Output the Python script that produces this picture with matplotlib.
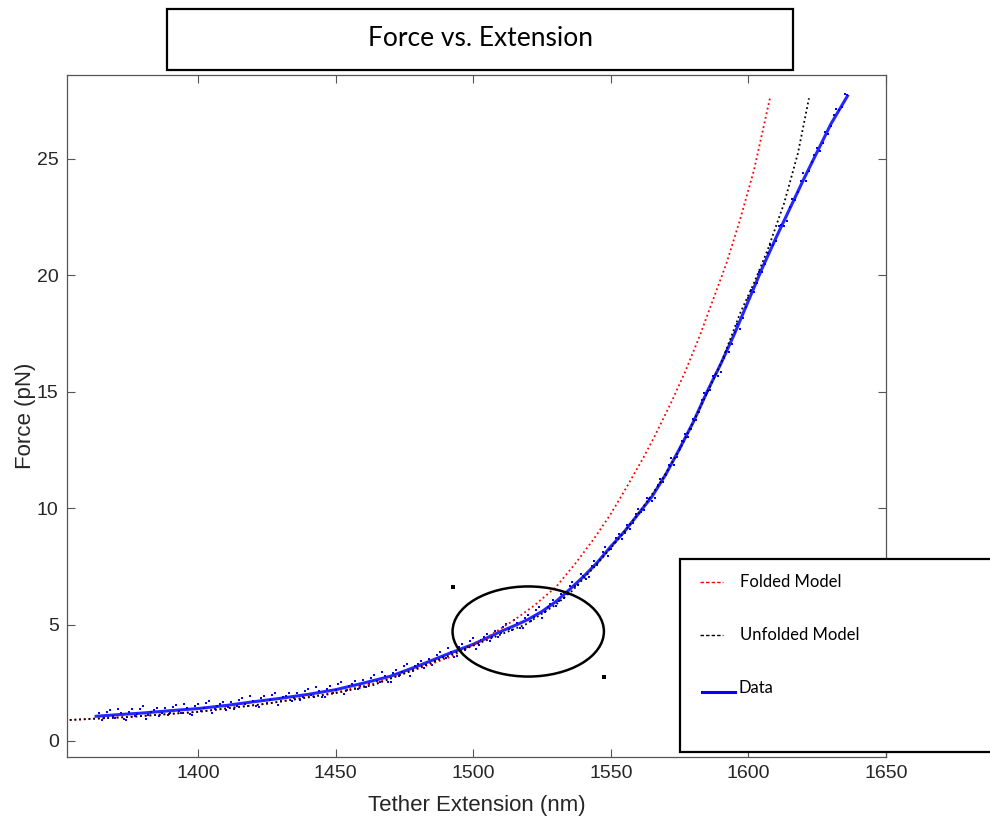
import matplotlib
matplotlib.use("Agg")
import matplotlib.pyplot as plt
from matplotlib.patches import Ellipse, Rectangle
from matplotlib.lines import Line2D

# ---- data ----
# centre line of the measured trace
data_ext = [1363, 1370, 1380, 1390, 1400, 1410, 1420, 1430, 1440, 1450, 1460, 1470,
            1480, 1490, 1500, 1510, 1516, 1520, 1525, 1530, 1535, 1540, 1545, 1550,
            1555, 1560, 1565, 1570, 1575, 1580, 1585, 1590, 1595, 1600, 1605, 1610,
            1615, 1620, 1625, 1630, 1636]
data_force = [1.06, 1.12, 1.20, 1.30, 1.39, 1.52, 1.68, 1.83, 2.00, 2.20, 2.48, 2.78,
              3.22, 3.70, 4.15, 4.70, 5.00, 5.22, 5.56, 5.98, 6.50, 7.05, 7.65, 8.35,
              9.00, 9.75, 10.50, 11.45, 12.55, 13.70, 15.00, 16.20, 17.50, 18.90, 20.30, 21.60,
              22.85, 24.10, 25.30, 26.50, 27.70]

# individual samples (scatter around the trace)
pts_ext_a = list(range(1364, 1637, 2))
pts_force_a = [1.18, 1.00, 1.32, 0.97, 1.19, 0.90, 1.35, 1.16, 1.48, 1.10, 1.33, 1.06,
               1.40, 1.22, 1.54, 1.18, 1.40, 1.12, 1.57, 1.40, 1.73, 1.35, 1.59, 1.32,
               1.67, 1.50, 1.84, 1.50, 1.73, 1.46, 1.92, 1.75, 2.08, 1.71, 1.95, 1.70,
               2.05, 1.89, 2.22, 1.89, 2.13, 1.87, 2.34, 2.18, 2.53, 2.19, 2.46, 2.22,
               2.60, 2.46, 2.82, 2.51, 2.77, 2.53, 3.05, 2.94, 3.32, 3.01, 3.31, 3.12,
               3.53, 3.43, 3.82, 3.55, 3.84, 3.63, 4.15, 4.04, 4.43, 4.14, 4.46, 4.28,
               4.71, 4.62, 5.02, 4.75, 5.05, 4.86, 5.40, 5.33, 5.76, 5.52, 5.90, 5.78,
               6.31, 6.32, 6.83, 6.68, 7.10, 7.04, 7.71, 7.77, 8.35, 8.23, 8.70, 8.67,
               9.27, 9.37, 9.97, 9.90, 10.40, 10.44, 11.25, 11.43, 12.17, 12.21, 12.87, 13.04,
               13.82, 14.14, 14.96, 15.07, 15.71, 15.85, 16.76, 17.04, 17.91, 18.17, 19.04, 19.29,
               20.15, 20.48, 21.30, 21.45, 22.15, 22.35, 23.28, 23.58, 24.38, 24.46, 25.15, 25.34,
               26.14, 26.42, 27.16, 27.23, 27.75]
pts_ext_b = list(range(1365, 1636, 2))
pts_force_b = [0.89, 1.24, 1.06, 1.38, 0.93, 1.26, 1.06, 1.39, 0.93, 1.26, 1.41, 1.18,
               1.11, 1.46, 1.28, 1.59, 1.14, 1.48, 1.29, 1.64, 1.18, 1.52, 1.67, 1.45,
               1.39, 1.75, 1.59, 1.92, 1.48, 1.83, 1.64, 1.99, 1.54, 1.88, 2.04, 1.83,
               1.77, 2.14, 1.97, 2.31, 1.88, 2.24, 2.06, 2.43, 2.00, 2.37, 2.56, 2.36,
               2.33, 2.72, 2.58, 2.94, 2.53, 2.93, 2.80, 3.20, 2.81, 3.21, 3.43, 3.28,
               3.28, 3.71, 3.60, 4.00, 3.62, 4.03, 3.90, 4.31, 3.93, 4.35, 4.59, 4.45,
               4.47, 4.90, 4.80, 5.20, 4.84, 5.27, 5.17, 5.62, 5.28, 5.76, 6.06, 6.00,
               6.12, 6.66, 6.67, 7.19, 6.95, 7.51, 7.54, 8.13, 7.93, 8.51, 8.90, 8.92,
               9.12, 9.75, 9.85, 10.45, 10.30, 10.98, 11.14, 11.87, 11.83, 12.59, 13.17, 13.38,
               13.78, 14.63, 14.93, 15.69, 15.66, 16.44, 16.70, 17.55, 17.68, 18.65, 19.38, 19.67,
               20.12, 20.97, 21.29, 22.10, 22.13, 22.95, 23.23, 24.05, 24.06, 24.85, 25.46, 25.69,
               26.08, 26.87, 27.11, 27.79]

# model curves
folded_ext = [1350, 1375, 1400, 1425, 1450, 1465, 1480, 1492, 1505, 1515, 1522, 1530,
              1537, 1544, 1550, 1556, 1562, 1566, 1572, 1577, 1582, 1587, 1592, 1597,
              1602, 1608]
folded_force = [0.88, 1.03, 1.25, 1.60, 2.08, 2.50, 3.10, 3.62, 4.45, 5.20, 5.80, 6.60,
                7.60, 8.70, 9.75, 10.95, 12.20, 13.10, 14.55, 15.85, 17.30, 18.90, 20.50, 22.40,
                24.50, 27.70]
unfolded_ext = [1350, 1375, 1400, 1425, 1450, 1464, 1475, 1486, 1502, 1519, 1530, 1536,
                1545, 1553, 1560, 1568, 1575, 1582, 1590, 1597, 1602, 1607, 1613, 1618,
                1622]
unfolded_force = [0.88, 1.03, 1.25, 1.60, 2.05, 2.41, 2.90, 3.41, 4.19, 5.00, 5.85, 6.45,
                  7.60, 8.70, 9.75, 11.10, 12.50, 14.20, 16.20, 18.37, 19.66, 21.09, 23.10, 25.24,
                  27.60]

# highlighted region
ellipse_center = (1520.0, 4.70)
ellipse_size = (55.0, 3.87)
corner_ext = [1492.8, 1547.6]
corner_force = [6.61, 2.76]

# ---- figure ----
plt.rcParams["font.family"] = ["Liberation Sans", "DejaVu Sans"]
txt = "#262626"

fig = plt.figure(figsize=(9.9, 8.17), dpi=100)
ax = fig.add_axes([67 / 990, 1 - 757 / 817, (886 - 67) / 990, (757 - 75) / 817])

ax.plot(data_ext, data_force, color="blue", lw=2.2, alpha=0.85, zorder=2)
ax.plot(pts_ext_a, pts_force_a, ls="none", marker="s", ms=2.1, mew=0, color="blue", zorder=2)
ax.plot(pts_ext_b, pts_force_b, ls="none", marker="s", ms=2.1, mew=0, color="blue", zorder=2)
ax.plot(folded_ext, folded_force, color="red", lw=1.3, ls=(0, (1, 1.6)), zorder=3)
ax.plot(unfolded_ext, unfolded_force, color="black", lw=1.3, ls=(0, (1, 1.6)), zorder=3)

ax.add_patch(Ellipse(ellipse_center, ellipse_size[0], ellipse_size[1],
                     fill=False, ec="black", lw=1.8, zorder=4))
ax.plot(corner_ext, corner_force, ls="none", marker="s", ms=2.2, mew=0, color="black")

ax.set_xlim(1352.4, 1650.0)
ax.set_ylim(-0.69, 28.6)
ax.set_xticks([1400, 1450, 1500, 1550, 1600, 1650])
ax.set_yticks([0, 5, 10, 15, 20, 25])
ax.tick_params(direction="in", length=6, width=0.8, colors="#555555",
               labelcolor=txt, labelsize=14, top=True, right=True, pad=6)
for s in ax.spines.values():
    s.set_color("#555555")
    s.set_linewidth(0.9)
ax.set_xlabel("Tether Extension (nm)", fontsize=16, color=txt, labelpad=9)
ax.set_ylabel("Force (pN)", fontsize=16, color=txt, labelpad=1)

# title box
fig.patches.append(Rectangle((167 / 990, 1 - 70 / 817), 626 / 990, 61 / 817,
                             transform=fig.transFigure, fill=True, fc="white",
                             ec="black", lw=1.6))
fig.text(480 / 990, 1 - 39 / 817, "Force vs. Extension", fontsize=19,
         family=["Lato", "DejaVu Sans"], ha="center", va="center", color="black")

# legend box (drawn by hand, runs off the right edge)
fig.patches.append(Rectangle((680 / 990, 1 - 752 / 817), 330 / 990, 193 / 817,
                             transform=fig.transFigure, fill=True, fc="white",
                             ec="black", lw=1.6, zorder=5))
fig.lines.append(Line2D([700 / 990, 723 / 990], [1 - 582 / 817] * 2,
                        transform=fig.transFigure, color="red", lw=1, ls=(0, (2.5, 1.5)), zorder=6))
fig.lines.append(Line2D([700 / 990, 723 / 990], [1 - 635 / 817] * 2,
                        transform=fig.transFigure, color="black", lw=1, ls=(0, (2.5, 1.5)), zorder=6))
fig.lines.append(Line2D([702 / 990, 735 / 990], [1 - 692 / 817] * 2,
                        transform=fig.transFigure, color="blue", lw=2.2, zorder=6))
for label, ypx, xpx in [("Folded Model", 582, 740), ("Unfolded Model", 635, 740),
                        ("Data", 688, 738)]:
    fig.text(xpx / 990, 1 - ypx / 817, label, fontsize=12, family=["Lato", "DejaVu Sans"],
             ha="left", va="center", color="black", zorder=7)

fig.savefig("out.png", dpi=100)
